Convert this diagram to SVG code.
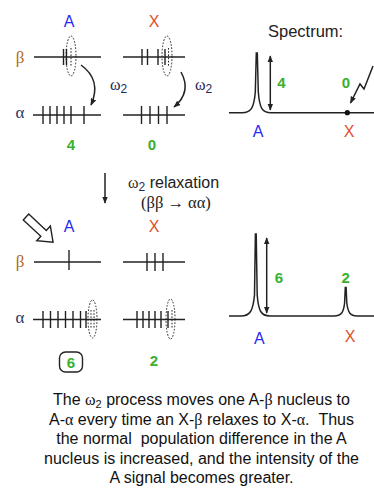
<svg xmlns="http://www.w3.org/2000/svg" width="374" height="490" viewBox="0 0 374 490">
<defs>
<marker id="ah" viewBox="0 0 10 10" refX="9" refY="5" markerWidth="7" markerHeight="7" orient="auto-start-reverse" markerUnits="userSpaceOnUse">
<path d="M0,1 L10,5 L0,9 Z" fill="#222"/>
</marker>
<style>
.ln{stroke:#222;stroke-width:1.5;fill:none}
.tk{stroke:#222;stroke-width:1.4}
.dt{stroke:#222;stroke-width:1;fill:none;stroke-dasharray:1.6,1.6}
.sans{font-family:"Liberation Sans",Arial,sans-serif}
.ser{font-family:"Liberation Serif","Times New Roman",serif}
.blue{fill:#2a2af0}
.red{fill:#e0502a}
.grn{fill:#38b030}
.beta{fill:#b06a28}
.alpha{fill:#26386a}
.pre{white-space:pre}
</style>
</defs>
<rect width="374" height="490" fill="#fff"/>

<!-- Top level diagram -->
<g id="top-levels">
<text x="69" y="27" class="sans blue" font-size="16" text-anchor="middle">A</text>
<text x="154" y="27" class="sans red" font-size="16" text-anchor="middle">X</text>
<text x="20" y="63" class="ser beta" font-size="17" text-anchor="middle">β</text>
<text x="20" y="118" class="ser alpha" font-size="17" text-anchor="middle">α</text>
<!-- A beta -->
<line class="ln" x1="34" y1="57" x2="101" y2="57"/>
<line class="tk" x1="63.5" y1="49" x2="63.5" y2="65"/>
<line class="tk" x1="66.5" y1="49" x2="66.5" y2="65"/>
<ellipse class="dt" cx="71" cy="56" rx="5" ry="20"/>
<line class="dt" x1="71" y1="48" x2="71" y2="66"/>
<!-- X beta -->
<line class="ln" x1="123" y1="57" x2="185" y2="57"/>
<line class="tk" x1="142" y1="49" x2="142" y2="65"/>
<line class="tk" x1="147.5" y1="49" x2="147.5" y2="65"/>
<line class="tk" x1="158" y1="49" x2="158" y2="65"/>
<ellipse class="dt" cx="167" cy="56" rx="5" ry="20"/>
<line class="tk" x1="165" y1="49" x2="165" y2="65"/>
<line class="dt" x1="168.5" y1="48" x2="168.5" y2="66"/>
<!-- A alpha -->
<line class="ln" x1="33" y1="115" x2="101" y2="115"/>
<line class="tk" x1="43" y1="106" x2="43" y2="124"/>
<line class="tk" x1="50" y1="106" x2="50" y2="124"/>
<line class="tk" x1="57" y1="106" x2="57" y2="124"/>
<line class="tk" x1="64" y1="106" x2="64" y2="124"/>
<line class="tk" x1="71" y1="106" x2="71" y2="124"/>
<line class="tk" x1="84" y1="106" x2="84" y2="124"/>
<!-- X alpha -->
<line class="ln" x1="123" y1="115" x2="185" y2="115"/>
<line class="tk" x1="141.5" y1="106" x2="141.5" y2="124"/>
<line class="tk" x1="150" y1="106" x2="150" y2="124"/>
<line class="tk" x1="158.5" y1="106" x2="158.5" y2="124"/>
<line class="tk" x1="167" y1="106" x2="167" y2="124"/>
<text x="71" y="150" class="sans grn" font-size="15" text-anchor="middle" font-weight="bold">4</text>
<text x="152" y="150" class="sans grn" font-size="15" text-anchor="middle" font-weight="bold">0</text>
<text x="110" y="90" class="ser" font-size="16" fill="#1e2a55">ω<tspan class="sans" font-size="12" dy="3">2</tspan></text>
<text x="195" y="90" class="ser" font-size="16" fill="#1e2a55">ω<tspan class="sans" font-size="12" dy="3">2</tspan></text>
</g>

<g id="connectors">
<path class="ln" d="M81,65 Q102,80 91,105" marker-end="url(#ah)"/>
<path class="ln" d="M181,72 Q192,92 174,107" marker-end="url(#ah)"/>
<line class="ln" x1="105" y1="173" x2="105" y2="203" marker-end="url(#ah)"/>
<path class="ln" d="M373,66 L364,89 L360,84 L350.5,103" stroke-width="1.2" marker-end="url(#ah)"/>
</g>

<!-- Top spectrum -->
<g id="top-spectrum">
<text x="268" y="37" class="sans" font-size="16.5" fill="#222">Spectrum:</text>
<path class="ln" d="M229,112.7 L242,112.7 C251,112.7 254,108 255.3,92 L256.3,53 L257.3,53 L258.3,92 C259.6,108 262,112.7 271,112.7 L374,112.7"/>
<line class="ln" x1="270.3" y1="110" x2="270.3" y2="56" stroke-width="1.3" marker-start="url(#ah)" marker-end="url(#ah)"/>
<text x="281.5" y="88" class="sans grn" font-size="15" text-anchor="middle" font-weight="bold">4</text>
<text x="346" y="88" class="sans grn" font-size="15" text-anchor="middle" font-weight="bold">0</text>
<circle cx="347.3" cy="112.7" r="2.6" fill="#111"/>
<text x="258" y="137" class="sans blue" font-size="16" text-anchor="middle">A</text>
<text x="349" y="137" class="sans red" font-size="16" text-anchor="middle">X</text>
</g>

<!-- Middle label -->
<g id="relaxation-label">
<text x="128" y="188" class="sans" font-size="16" fill="#222"><tspan class="ser" fill="#3a2a20">ω</tspan><tspan font-size="12" dy="3" fill="#1e2a55">2</tspan><tspan dy="-3"> relaxation</tspan></text>
<text x="141" y="208" class="ser" font-size="16.5" fill="#222">(ββ → αα)</text>
</g>

<!-- Bottom level diagram -->
<g id="bottom-levels">
<polygon points="0,-4 24,-4 24,-10 37,0 24,10 24,4 0,4" fill="#fff" stroke="#222" stroke-width="1.4" stroke-linejoin="miter" transform="translate(26,217) rotate(43)"/>
<text x="69" y="232" class="sans blue" font-size="16" text-anchor="middle">A</text>
<text x="154" y="232" class="sans red" font-size="16" text-anchor="middle">X</text>
<text x="20" y="267" class="ser beta" font-size="17" text-anchor="middle">β</text>
<text x="20" y="323" class="ser alpha" font-size="17" text-anchor="middle">α</text>
<!-- A beta -->
<line class="ln" x1="34" y1="262" x2="101" y2="262"/>
<line class="tk" x1="69" y1="250" x2="69" y2="270"/>
<!-- X beta -->
<line class="ln" x1="123" y1="262" x2="185" y2="262"/>
<line class="tk" x1="147" y1="253" x2="147" y2="271"/>
<line class="tk" x1="155" y1="253" x2="155" y2="271"/>
<line class="tk" x1="163" y1="253" x2="163" y2="271"/>
<!-- A alpha -->
<line class="ln" x1="33" y1="319.5" x2="101" y2="319.5"/>
<line class="tk" x1="43" y1="311" x2="43" y2="328"/>
<line class="tk" x1="50.5" y1="311" x2="50.5" y2="328"/>
<line class="tk" x1="58" y1="311" x2="58" y2="328"/>
<line class="tk" x1="65.5" y1="311" x2="65.5" y2="328"/>
<line class="tk" x1="73" y1="311" x2="73" y2="328"/>
<line class="tk" x1="80.5" y1="311" x2="80.5" y2="328"/>
<line class="tk" x1="86" y1="311" x2="86" y2="328"/>
<ellipse class="dt" cx="92.5" cy="319" rx="4.5" ry="19"/>
<line class="dt" x1="91" y1="310" x2="91" y2="329"/>
<line class="dt" x1="94" y1="310" x2="94" y2="329"/>
<!-- X alpha -->
<line class="ln" x1="123" y1="319.5" x2="185" y2="319.5"/>
<line class="tk" x1="137" y1="311" x2="137" y2="328"/>
<line class="tk" x1="143" y1="311" x2="143" y2="328"/>
<line class="tk" x1="149" y1="311" x2="149" y2="328"/>
<line class="tk" x1="155" y1="311" x2="155" y2="328"/>
<line class="tk" x1="161" y1="311" x2="161" y2="328"/>
<ellipse class="dt" cx="170.5" cy="319" rx="4.5" ry="20"/>
<line class="tk" x1="168" y1="311" x2="168" y2="328"/>
<line class="dt" x1="172" y1="310" x2="172" y2="329"/>
<rect x="59.5" y="352" width="23" height="20" rx="6" fill="none" stroke="#222" stroke-width="1.4"/>
<text x="71" y="368" class="sans grn" font-size="15" text-anchor="middle" font-weight="bold">6</text>
<text x="154" y="366" class="sans grn" font-size="15" text-anchor="middle" font-weight="bold">2</text>
</g>

<!-- Bottom spectrum -->
<g id="bottom-spectrum">
<path class="ln" d="M229,316 L241,316 C250,316 253,311 254.5,295 L255.4,234 L256.2,234 L257.2,295 C258.5,311 261,316 270,316 L334,316 C341,316 343.5,313 344.6,303 L345.3,287.5 L346.1,287.5 L346.8,303 C348,313 350.5,316 357,316 L374,316"/>
<line class="ln" x1="266.7" y1="313" x2="266.7" y2="238" stroke-width="1.3" marker-start="url(#ah)" marker-end="url(#ah)"/>
<text x="279" y="283" class="sans grn" font-size="15" text-anchor="middle" font-weight="bold">6</text>
<text x="345.7" y="283" class="sans grn" font-size="15" text-anchor="middle" font-weight="bold">2</text>
<text x="259.3" y="344" class="sans blue" font-size="16" text-anchor="middle">A</text>
<text x="350" y="342" class="sans red" font-size="16" text-anchor="middle">X</text>
</g>

<!-- Caption -->
<g id="caption" class="sans" font-size="16" fill="#111" text-anchor="middle">
<text x="201.5" y="405">The <tspan class="ser">ω</tspan><tspan font-size="11" dy="3">2</tspan><tspan dy="-3"> process moves one A-</tspan><tspan class="ser">β</tspan> nucleus to</text>
<text x="201.5" y="424.5" class="pre">A-<tspan class="ser">α</tspan> every time an X-<tspan class="ser">β</tspan> relaxes to X-<tspan class="ser">α</tspan>.  Thus</text>
<text x="201.5" y="444" class="pre">the normal  population difference in the A</text>
<text x="201.5" y="463.5">nucleus is increased, and the intensity of the</text>
<text x="201.5" y="483">A signal becomes greater.</text>
</g>
</svg>
